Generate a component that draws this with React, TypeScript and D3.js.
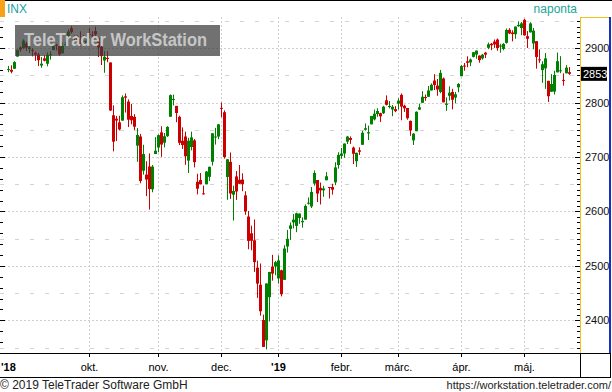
import { useMemo } from "react";
import * as d3 from "d3";

// daily candles, INX (Aug 22 2018 .. May 22 2019)
const DATES = [
  "2018-08-22","2018-08-23","2018-08-24","2018-08-27","2018-08-28","2018-08-29","2018-08-30","2018-08-31",
  "2018-09-04","2018-09-05","2018-09-06","2018-09-07","2018-09-10","2018-09-11","2018-09-12","2018-09-13","2018-09-14",
  "2018-09-17","2018-09-18","2018-09-19","2018-09-20","2018-09-21","2018-09-24","2018-09-25","2018-09-26","2018-09-27","2018-09-28",
  "2018-10-01","2018-10-02","2018-10-03","2018-10-04","2018-10-05","2018-10-08","2018-10-09","2018-10-10","2018-10-11","2018-10-12",
  "2018-10-15","2018-10-16","2018-10-17","2018-10-18","2018-10-19","2018-10-22","2018-10-23","2018-10-24","2018-10-25","2018-10-26",
  "2018-10-29","2018-10-30","2018-10-31",
  "2018-11-01","2018-11-02","2018-11-05","2018-11-06","2018-11-07","2018-11-08","2018-11-09","2018-11-12","2018-11-13","2018-11-14",
  "2018-11-15","2018-11-16","2018-11-19","2018-11-20","2018-11-21","2018-11-23","2018-11-26","2018-11-27","2018-11-28","2018-11-29","2018-11-30",
  "2018-12-03","2018-12-04","2018-12-06","2018-12-07","2018-12-10","2018-12-11","2018-12-12","2018-12-13","2018-12-14","2018-12-17",
  "2018-12-18","2018-12-19","2018-12-20","2018-12-21","2018-12-24","2018-12-26","2018-12-27","2018-12-28","2018-12-31",
  "2019-01-02","2019-01-03","2019-01-04","2019-01-07","2019-01-08","2019-01-09","2019-01-10","2019-01-11","2019-01-14","2019-01-15",
  "2019-01-16","2019-01-17","2019-01-18","2019-01-22","2019-01-23","2019-01-24","2019-01-25","2019-01-28","2019-01-29","2019-01-30","2019-01-31",
  "2019-02-01","2019-02-04","2019-02-05","2019-02-06","2019-02-07","2019-02-08","2019-02-11","2019-02-12","2019-02-13","2019-02-14",
  "2019-02-15","2019-02-19","2019-02-20","2019-02-21","2019-02-22","2019-02-25","2019-02-26","2019-02-27","2019-02-28",
  "2019-03-01","2019-03-04","2019-03-05","2019-03-06","2019-03-07","2019-03-08","2019-03-11","2019-03-12","2019-03-13","2019-03-14",
  "2019-03-15","2019-03-18","2019-03-19","2019-03-20","2019-03-21","2019-03-22","2019-03-25","2019-03-26","2019-03-27","2019-03-28","2019-03-29",
  "2019-04-01","2019-04-02","2019-04-03","2019-04-04","2019-04-05","2019-04-08","2019-04-09","2019-04-10","2019-04-11","2019-04-12",
  "2019-04-15","2019-04-16","2019-04-17","2019-04-18","2019-04-22","2019-04-23","2019-04-24","2019-04-25","2019-04-26","2019-04-29","2019-04-30",
  "2019-05-01","2019-05-02","2019-05-03","2019-05-06","2019-05-07","2019-05-08","2019-05-09","2019-05-10","2019-05-13","2019-05-14",
  "2019-05-15","2019-05-16","2019-05-17","2019-05-20","2019-05-21","2019-05-22",
];

const OPEN = [
  2860.99,2860.29,2862.35,2884.69,2901.45,2900.62,2908.94,2898.37,
  2896.96,2891.59,2888.64,2868.26,2881.39,2871.57,2888.29,2896.85,2906.38,
  2903.83,2890.74,2906.60,2919.73,2936.76,2921.83,2921.75,2916.98,2911.65,2910.03,
  2926.29,2923.80,2931.69,2919.35,2902.54,2877.53,2882.51,2873.90,2776.87,2770.54,
  2763.83,2767.05,2811.67,2802.00,2775.66,2773.94,2721.03,2737.87,2674.88,2667.86,
  2682.65,2640.68,2705.60,
  2717.58,2745.45,2726.37,2738.40,2774.13,2806.38,2794.10,2773.93,2730.05,2737.90,
  2693.52,2718.54,2730.74,2654.60,2657.74,2633.36,2649.97,2663.75,2691.45,2736.97,2737.76,
  2790.50,2782.43,2663.51,2691.26,2630.86,2664.44,2658.23,2658.70,2629.68,2590.75,
  2559.90,2547.05,2496.77,2465.38,2400.56,2363.12,2442.50,2498.77,2498.94,
  2476.96,2491.92,2474.33,2535.61,2568.11,2580.00,2573.51,2588.11,2580.31,2585.10,
  2614.75,2609.28,2651.27,2657.88,2643.48,2638.84,2657.44,2644.97,2644.89,2653.62,2685.49,
  2702.32,2706.49,2728.34,2735.05,2717.53,2692.36,2712.40,2722.61,2750.30,2743.50,
  2760.24,2769.28,2779.05,2780.67,2780.67,2804.35,2792.36,2787.50,2788.11,
  2798.22,2814.37,2794.41,2790.27,2766.53,2730.79,2747.61,2787.34,2799.78,2810.38,
  2810.79,2822.61,2840.76,2831.34,2819.72,2844.52,2796.01,2812.66,2819.72,2809.40,2828.27,
  2848.63,2868.24,2876.09,2873.99,2884.16,2888.46,2886.58,2881.37,2891.92,2900.86,
  2908.32,2912.26,2916.04,2904.81,2898.78,2909.99,2934.00,2928.99,2925.81,2940.58,2937.14,
  2952.33,2922.16,2929.21,2908.89,2913.03,2879.61,2859.84,2863.10,2840.19,2820.12,
  2820.38,2855.80,2858.60,2841.94,2854.02,2856.06,
];

const HIGH = [
  2867.54,2868.78,2876.16,2898.25,2903.77,2916.50,2912.46,2906.32,
  2900.18,2894.21,2892.05,2883.81,2886.93,2892.52,2894.65,2906.76,2908.30,
  2904.65,2911.17,2912.36,2934.80,2940.91,2923.79,2923.95,2931.15,2924.51,2920.53,
  2937.06,2931.42,2939.86,2919.78,2909.64,2894.83,2894.83,2874.02,2795.14,2775.77,
  2775.99,2813.46,2816.94,2806.04,2797.77,2778.94,2753.59,2742.59,2722.70,2692.38,
  2706.85,2685.43,2736.69,
  2741.67,2756.55,2744.27,2756.82,2815.15,2814.75,2794.10,2775.99,2754.60,2746.80,
  2735.38,2746.75,2733.16,2669.44,2670.73,2647.55,2674.35,2682.53,2744.00,2753.75,2760.88,
  2800.18,2785.93,2696.15,2708.54,2647.51,2674.35,2685.44,2670.19,2637.24,2601.13,
  2573.99,2585.29,2509.63,2504.41,2410.34,2467.76,2489.10,2520.27,2509.24,
  2519.49,2493.14,2538.07,2566.16,2579.82,2595.32,2597.82,2596.27,2589.32,2613.08,
  2625.76,2645.06,2675.47,2657.88,2653.19,2647.20,2672.38,2644.97,2650.93,2690.44,2708.95,
  2716.66,2724.99,2738.98,2738.08,2719.32,2708.07,2718.05,2748.19,2761.85,2757.90,
  2775.66,2787.33,2789.88,2781.58,2794.20,2813.49,2803.12,2795.76,2793.73,
  2808.02,2816.88,2796.44,2790.27,2767.25,2744.13,2784.00,2798.32,2821.24,2815.00,
  2830.73,2835.41,2852.42,2843.54,2860.31,2846.16,2809.79,2829.87,2825.56,2819.71,2836.03,
  2869.40,2872.90,2885.25,2881.28,2893.24,2895.95,2886.88,2889.71,2893.42,2910.54,
  2909.60,2916.06,2918.00,2908.40,2909.51,2936.31,2936.83,2933.10,2939.88,2949.52,2948.22,
  2954.13,2931.68,2947.85,2937.32,2913.03,2897.96,2875.97,2891.31,2840.19,2852.54,
  2858.68,2892.15,2885.48,2853.86,2868.88,2865.47,
];

const LOW = [
  2856.05,2854.03,2862.35,2884.69,2893.50,2898.40,2895.22,2891.73,
  2885.13,2876.92,2867.29,2864.12,2875.94,2866.78,2879.20,2896.39,2895.77,
  2886.16,2890.43,2903.82,2919.73,2927.11,2912.63,2913.70,2903.28,2909.98,2907.50,
  2917.91,2919.37,2921.36,2883.92,2869.29,2855.04,2874.27,2784.86,2710.51,2729.44,
  2749.03,2766.91,2781.81,2755.18,2760.27,2749.22,2691.43,2651.89,2667.84,2628.16,
  2603.54,2635.34,2705.60,
  2708.85,2700.44,2717.94,2737.08,2774.13,2794.99,2764.24,2722.00,2714.98,2685.75,
  2670.75,2712.16,2681.09,2631.52,2649.82,2631.09,2649.97,2655.89,2684.38,2722.94,2732.76,
  2773.38,2697.18,2621.53,2623.14,2583.23,2621.30,2650.26,2637.27,2593.84,2530.54,
  2528.71,2488.96,2441.18,2408.55,2351.10,2346.58,2397.94,2472.89,2482.82,
  2467.47,2443.96,2474.33,2524.56,2547.56,2568.89,2562.02,2577.40,2570.41,2585.10,
  2612.68,2606.36,2647.58,2617.27,2612.86,2627.01,2657.33,2624.06,2631.05,2648.34,2678.65,
  2696.88,2698.75,2724.03,2724.15,2687.26,2681.83,2703.79,2722.61,2748.63,2731.23,
  2760.24,2767.29,2774.06,2764.55,2779.11,2794.99,2789.47,2775.13,2782.51,
  2787.38,2767.66,2782.97,2768.69,2739.09,2722.27,2747.61,2786.73,2799.78,2803.46,
  2810.79,2821.99,2823.27,2812.63,2817.38,2800.47,2785.02,2803.99,2787.72,2798.77,2819.23,
  2848.63,2858.75,2865.17,2867.14,2882.99,2880.78,2873.33,2879.13,2881.99,2898.37,
  2896.48,2900.71,2895.45,2891.90,2896.35,2908.53,2926.05,2912.84,2917.56,2939.35,2924.11,
  2923.36,2900.50,2929.21,2898.21,2862.60,2873.28,2836.40,2825.39,2801.43,2820.12,
  2815.08,2855.80,2854.23,2831.29,2854.02,2851.11,
];

const CLOSE = [
  2861.82,2856.98,2874.69,2896.74,2897.52,2914.04,2901.13,2901.52,
  2896.72,2888.60,2878.05,2871.68,2877.13,2887.89,2888.92,2904.18,2904.98,
  2888.80,2904.31,2907.95,2930.75,2929.67,2919.37,2915.56,2905.97,2914.00,2913.98,
  2924.59,2923.43,2925.51,2901.61,2885.57,2884.43,2880.34,2785.68,2728.37,2767.13,
  2750.79,2809.92,2809.21,2768.78,2767.78,2755.88,2740.69,2656.10,2705.57,2658.69,
  2641.25,2682.63,2711.74,
  2740.37,2723.06,2738.31,2755.45,2813.89,2806.83,2781.01,2726.22,2722.18,2701.58,
  2730.20,2736.27,2690.73,2641.89,2649.93,2632.56,2673.45,2682.17,2743.79,2737.80,2760.17,
  2790.37,2700.06,2695.95,2633.08,2637.72,2636.78,2651.07,2650.54,2599.95,2545.94,
  2546.16,2506.96,2467.42,2416.62,2351.10,2467.70,2488.83,2485.74,2506.85,
  2510.03,2447.89,2531.94,2549.69,2574.41,2584.96,2596.64,2596.26,2582.61,2610.30,
  2616.10,2635.96,2670.71,2632.90,2638.70,2642.33,2664.76,2643.85,2640.00,2681.05,2704.10,
  2706.53,2724.87,2737.70,2731.61,2706.05,2707.88,2709.80,2744.73,2753.03,2745.73,
  2775.60,2779.76,2784.70,2774.88,2792.67,2796.11,2793.90,2792.38,2784.49,
  2803.69,2792.81,2789.65,2771.45,2748.93,2743.07,2783.30,2791.52,2810.92,2808.48,
  2822.48,2832.94,2832.57,2824.23,2854.88,2800.71,2798.36,2818.46,2805.37,2815.44,2834.40,
  2867.19,2867.24,2873.40,2879.39,2892.74,2895.77,2878.20,2888.21,2888.32,2907.41,
  2905.58,2907.06,2900.45,2905.03,2907.97,2933.68,2927.25,2926.17,2939.88,2943.03,2945.83,
  2923.73,2917.52,2945.64,2932.47,2884.05,2879.42,2870.72,2881.40,2811.87,2834.41,
  2850.96,2876.32,2859.53,2840.23,2864.36,2853.00,
];

const PRICE_TICKS = [2400, 2500, 2600, 2700, 2800, 2900];
const HALF_TICKS = [2350, 2450, 2550, 2650, 2750, 2850, 2950];
const MONTH_STARTS = ["2018-10-01","2018-11-01","2018-12-03","2019-01-02","2019-02-01","2019-03-01","2019-04-01","2019-05-01"];
const MONTH_LABELS = ["okt.","nov.","dec.","'19","febr.","márc.","ápr.","máj."];
const LAST_PRICE = 2853;

const WIDTH = 612;
const HEIGHT = 392;
const PLOT = { left: 0, right: 580, top: 17, bottom: 353 };
const UP = "#008000";
const DOWN = "#cc0000";
const FONT = "Arial, 'Liberation Sans', sans-serif";

export default function App() {
  const n = DATES.length;

  const xScale = useMemo(
    () => d3.scaleLinear().domain([0, n - 1]).range([8.5, 8.5 + 3 * (n - 1)]),
    [n]
  );
  const yScale = useMemo(
    () => d3.scaleLinear().domain([2339.9, 2957.5]).range([PLOT.bottom, PLOT.top]),
    []
  );

  const monthX = MONTH_STARTS.map((d) => xScale(DATES.indexOf(d)));

  const candles = DATES.map((d, i) => {
    const o = OPEN[i], c = CLOSE[i];
    const color = c >= o ? UP : DOWN;
    const x = xScale(i);
    const top = yScale(Math.max(o, c));
    const h = Math.max(1, Math.abs(yScale(o) - yScale(c)));
    return (
      <g key={d}>
        <line x1={x} x2={x} y1={yScale(HIGH[i])} y2={yScale(LOW[i])} stroke={color} strokeWidth={1} />
        <rect x={x - 1.5} y={top} width={3} height={h} fill={color} />
      </g>
    );
  });

  const majorGrid = PRICE_TICKS.map((v) => {
    const y = Math.round(yScale(v)) + 0.5;
    return <line key={v} x1={0} x2={PLOT.right} y1={y} y2={y} stroke="#cfcfcf" strokeDasharray="2 2" />;
  });
  const halfGrid = HALF_TICKS.map((v) => {
    const y = Math.round(yScale(v)) + 0.5;
    return <line key={v} x1={0} x2={PLOT.right} y1={y} y2={y} stroke="#d4d4d4" strokeDasharray="4 11" />;
  });
  const vGrid = monthX.map((x, i) => (
    <line key={i} x1={Math.floor(x) + 0.5} x2={Math.floor(x) + 0.5} y1={PLOT.top} y2={PLOT.bottom}
      stroke="#cfcfcf" strokeDasharray="2 2" />
  ));

  // tick marks on both price axes
  const leftTicks = d3.range(2360, 2960, 20).map((v) => {
    const y = Math.round(yScale(v)) + 0.5;
    return <line key={v} x1={0} x2={v % 100 === 0 ? 5 : 3} y1={y} y2={y} stroke="#000" />;
  });
  const rightTicks = d3.range(2350, 2960, 10).map((v) => {
    const y = Math.round(yScale(v)) + 0.5;
    return <line key={v} x1={v % 100 === 0 ? 575 : 577} x2={580} y1={y} y2={y} stroke="#000" />;
  });
  const priceLabels = PRICE_TICKS.map((v) => (
    <text key={v} x={585} y={yScale(v) + 4} fontSize={11} fill="#111" fontFamily={FONT}>{v}</text>
  ));

  const lastY = yScale(LAST_PRICE);

  return (
    <svg width={WIDTH} height={HEIGHT} style={{ position: "absolute", left: 0, top: 0, background: "#fff" }}>
      {/* header */}
      <line x1={0} x2={WIDTH} y1={0.5} y2={0.5} stroke="#000" />
      <rect x={0} y={0} width={5} height={17} fill="#f7a11a" />
      <text x={7} y={13} fontSize={12} fill="#1e9e9e" fontFamily={FONT}>INX</text>
      <text x={577} y={13} fontSize={12} fill="#22a596" fontFamily={FONT} textAnchor="end">naponta</text>

      <g>{halfGrid}</g>
      <g>{majorGrid}</g>
      <g>{vGrid}</g>
      <g>{candles}</g>
      <g>{leftTicks}</g>

      {/* watermark */}
      <rect x={15} y={25} width={205} height={31} fill="#3a3a3a" opacity={0.72} />
      <text x={24} y={46} fontSize={19} fontWeight="bold" fill="#c6c6c6" fontFamily={FONT}
        textLength={183} lengthAdjust="spacingAndGlyphs">TeleTrader WorkStation</text>

      {/* right price axis */}
      <line x1={580.5} x2={580.5} y1={PLOT.top} y2={PLOT.bottom} stroke="#f2c21b" />
      <line x1={580} x2={610} y1={17.5} y2={17.5} stroke="#f2c21b" />
      <rect x={609} y={PLOT.top} width={2} height={PLOT.bottom - PLOT.top} fill="#1430c8" />
      <g>{rightTicks}</g>
      <g>{priceLabels}</g>
      <rect x={581} y={lastY - 7} width={26} height={14} fill="#000" />
      <text x={583} y={lastY + 4} fontSize={11} fill="#fff" fontFamily={FONT}>{LAST_PRICE}</text>

      {/* date axis */}
      <line x1={0} x2={611} y1={353.5} y2={353.5} stroke="#000" />
      <line x1={0} x2={611} y1={377.5} y2={377.5} stroke="#000" />
      <line x1={580.5} x2={580.5} y1={353} y2={378} stroke="#000" />
      <line x1={610.5} x2={610.5} y1={353} y2={378} stroke="#000" />
      {monthX.map((x, i) => (
        <line key={i} x1={Math.floor(x) + 0.5} x2={Math.floor(x) + 0.5} y1={354} y2={357} stroke="#000" />
      ))}
      <text x={1} y={371} fontSize={11} fontWeight="bold" fill="#000" fontFamily={FONT}>'18</text>
      {monthX.map((x, i) => (
        <text key={i} x={x} y={371} fontSize={11} textAnchor="middle" fill="#000" fontFamily={FONT}
          fontWeight={MONTH_LABELS[i].startsWith("'") ? "bold" : "normal"}>{MONTH_LABELS[i]}</text>
      ))}

      {/* footer */}
      <text x={0} y={389} fontSize={12} fill="#222" fontFamily={FONT}>© 2019 TeleTrader Software GmbH</text>
      <text x={611} y={389} fontSize={11} fill="#222" fontFamily={FONT} textAnchor="end">https://workstation.teletrader.com/</text>
    </svg>
  );
}
